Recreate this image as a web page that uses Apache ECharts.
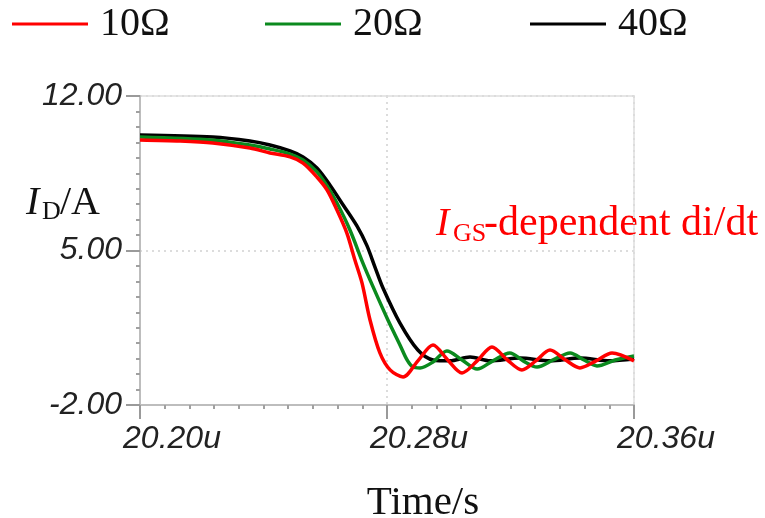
<!DOCTYPE html>
<html>
<head>
<meta charset="utf-8">
<script src="https://cdn.jsdelivr.net/npm/echarts@6/dist/echarts.min.js"></script>
<style>
html,body{margin:0;padding:0;background:#fff;}
#chart{width:765px;height:518px;}
</style>
</head>
<body>
<div id="chart"></div>
<script>
// time in ns
var seriesNames = ['10Ω', '20Ω', '40Ω'];
var xTicks = [20200, 20280, 20360];
var yTicks = [-2, 5, 12];

var t10 = [20200,20213,20223.6,20235.6,20242.1,20248.6,20252.8,20257.3,20260.6,20263.8,20267.0,20269.6,20271.9,20274.5,20277.7,20281,20285.2,20290,20294.9,20299.6,20304.3,20309.2,20314,20318.9,20323.7,20328.2,20332.8,20337.7,20342.5,20347.7,20352.9,20360];
var i10 = [10.01,9.96,9.87,9.64,9.42,9.24,8.96,8.33,7.74,6.83,5.79,4.57,3.53,1.85,0.36,-0.41,-0.73,0.0,0.72,0.05,-0.55,0.0,0.63,0.05,-0.41,0.0,0.49,0.05,-0.32,0.0,0.36,0.0];

var t20 = [20200,20223.6,20235.6,20242.1,20248.6,20252.8,20257.3,20260.6,20263.8,20268.0,20272.2,20275.5,20280.3,20284.2,20286.5,20288.4,20290.7,20294.9,20299.4,20304.3,20309.2,20314.3,20319.8,20324.1,20328.6,20333.8,20339.3,20343.8,20348,20353.9,20360];
var i20 = [10.14,10.0,9.78,9.60,9.37,9.10,8.56,7.92,7.15,5.93,4.43,3.35,1.85,0.72,0.04,-0.28,-0.32,-0.05,0.45,0.04,-0.37,0.0,0.36,0.0,-0.28,0.04,0.36,0.04,-0.23,0.04,0.22];

var t40 = [20200,20223.6,20235.6,20242.1,20248.6,20252.8,20257.3,20261.5,20265.8,20270.3,20273.5,20276.1,20278.7,20284.2,20290,20294.9,20300.4,20306.9,20313.4,20323.1,20332.8,20342.5,20352.2,20360];
var i40 = [10.23,10.14,9.96,9.78,9.51,9.24,8.74,7.97,7.06,6.1,5.22,4.25,3.3,1.71,0.49,0.04,0.0,0.17,0.0,0.13,0.0,0.13,0.0,0.08];

function zip(a, b) { return a.map(function (v, k) { return [v, b[k]]; }); }

var chart = echarts.init(document.getElementById('chart'), null, {renderer: 'canvas'});
var legendText = {fontFamily: '"Liberation Serif", "Times New Roman", serif', fontSize: 40, color: '#111', padding: [0, 0, 0, 7]};
function leg(name, left) {
  return {data: [name], left: left, top: 4, padding: 0, icon: 'rect', itemWidth: 76, itemHeight: 3, textStyle: legendText, selectedMode: false};
}
var colors = ['#ff0000', '#0b8a1e', '#000000'];
chart.setOption({
  animation: false,
  color: colors,
  legend: [leg(seriesNames[0], 12), leg(seriesNames[1], 265), leg(seriesNames[2], 530)],
  grid: {left: 140, right: 131, top: 96, bottom: 113, show: true, borderColor: '#e6e6e6', borderWidth: 2, containLabel: false, outerBoundsMode: 'none'},
  xAxis: {
    type: 'value', min: xTicks[0], max: xTicks[2], interval: xTicks[1] - xTicks[0],
    name: 'Time/s', nameLocation: 'middle', nameGap: 78,
    nameTextStyle: {fontFamily: '"Liberation Serif", "Times New Roman", serif', fontSize: 41, color: '#111', padding: [0, 0, 0, 72]},
    axisLine: {show: true, onZero: false, lineStyle: {color: '#bdbdbd', width: 2}},
    axisTick: {show: true, length: 14, lineStyle: {color: '#9a9a9a', width: 2}},
    minorTick: {show: true, splitNumber: 10, length: 4, lineStyle: {color: '#a0a0a0', width: 2}},
    splitLine: {show: true, lineStyle: {color: '#dcdcdc', width: 2, type: [2, 4]}},
    axisLabel: {
      margin: 18, fontFamily: '"Liberation Sans", Arial, sans-serif', fontStyle: 'italic', fontSize: 32, color: '#222',
      padding: [0, 0, 0, 64],
      formatter: function (v) { return (v / 1000).toFixed(2) + 'u'; }
    }
  },
  yAxis: {
    type: 'value', min: yTicks[0], max: yTicks[2], interval: yTicks[1] - yTicks[0],
    axisLine: {show: true, onZero: false, lineStyle: {color: '#bdbdbd', width: 2}},
    axisTick: {show: true, length: 14, lineStyle: {color: '#9a9a9a', width: 2}},
    minorTick: {show: true, splitNumber: 10, length: 4, lineStyle: {color: '#a0a0a0', width: 2}},
    splitLine: {show: true, lineStyle: {color: '#dcdcdc', width: 2, type: [2, 4]}},
    axisLabel: {
      margin: 18, fontFamily: '"Liberation Sans", Arial, sans-serif', fontStyle: 'italic', fontSize: 32, color: '#222',
      formatter: function (v) { return v.toFixed(2); }
    }
  },
  series: [
    {name: seriesNames[0], type: 'line', data: zip(t10, i10), smooth: 0.3, symbol: 'none', z: 5, lineStyle: {width: 3.5, color: colors[0]}},
    {name: seriesNames[1], type: 'line', data: zip(t20, i20), smooth: 0.3, symbol: 'none', z: 4, lineStyle: {width: 3.5, color: colors[1]}},
    {name: seriesNames[2], type: 'line', data: zip(t40, i40), smooth: 0.3, symbol: 'none', z: 3, lineStyle: {width: 3.5, color: colors[2]}}
  ],
  graphic: [
    {type: 'text', x: 26, y: 203, style: {text: 'I', font: 'italic 40px "Liberation Serif"', fill: '#111', verticalAlign: 'middle'}},
    {type: 'text', x: 42, y: 212, style: {text: 'D', font: '26px "Liberation Serif"', fill: '#111', verticalAlign: 'middle'}},
    {type: 'text', x: 60, y: 203, style: {text: '/A', font: '40px "Liberation Serif"', fill: '#111', verticalAlign: 'middle'}},
    {type: 'text', x: 436, y: 224, style: {text: 'I', font: 'italic 40px "Liberation Serif"', fill: '#ff0000', verticalAlign: 'middle'}},
    {type: 'text', x: 453, y: 234, style: {text: 'GS', font: '26px "Liberation Serif"', fill: '#ff0000', verticalAlign: 'middle'}},
    {type: 'text', x: 484, y: 224, style: {text: '-dependent di/dt', font: '42px "Liberation Serif"', fill: '#ff0000', verticalAlign: 'middle'}}
  ]
});
</script>
</body>
</html>
